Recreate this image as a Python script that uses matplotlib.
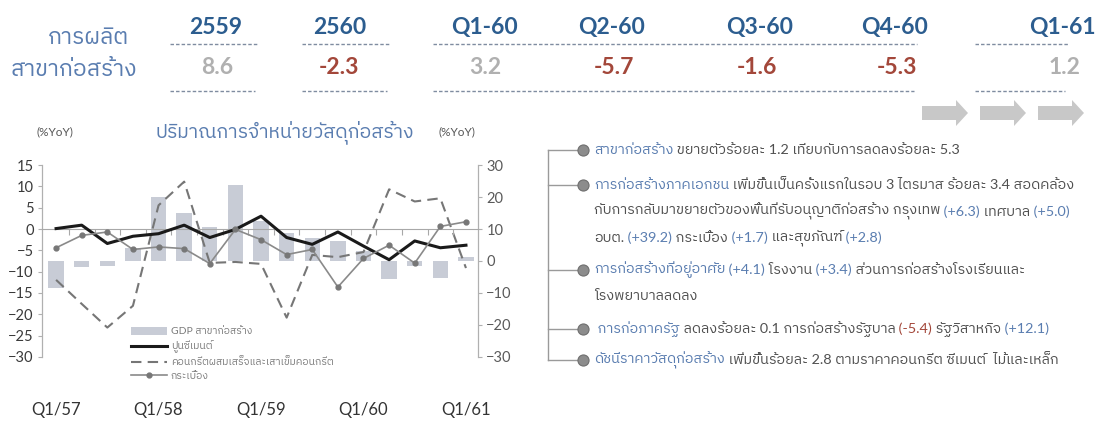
import matplotlib
matplotlib.use("Agg")
import matplotlib.pyplot as plt
from matplotlib import font_manager
from matplotlib.transforms import blended_transform_factory
from matplotlib.patches import FancyArrow, Patch
from matplotlib.lines import Line2D
from fontTools.ttLib import TTFont

# ─── Data ─────────────────────────────────────────────────────────────────────
quarters = ["Q1/57", "Q2/57", "Q3/57", "Q4/57",
            "Q1/58", "Q2/58", "Q3/58", "Q4/58",
            "Q1/59", "Q2/59", "Q3/59", "Q4/59",
            "Q1/60", "Q2/60", "Q3/60", "Q4/60",
            "Q1/61"]
gdp_construction = [-8.3, -1.9, -1.7, 4.1, 20.1, 15.0, 10.6, 23.8, 12.4, 8.8,
                    7.3, 6.2, 3.2, -5.7, -1.6, -5.3, 1.2]          # right axis
cement = [0.1, 0.9, -3.4, -1.7, -1.1, 0.9, -2.0, -0.1, 3.0, -2.0,
          -3.6, -0.7, -4.0, -7.2, -2.8, -4.4, -3.8]                 # left axis
concrete = [-5.9, -13.4, -20.8, -14.0, 17.4, 24.8, -0.6, -0.3, -0.9, -17.7,
            1.9, 1.2, 2.8, 22.4, 18.6, 19.6, -2.2]                  # right axis
tiles = [-4.4, -1.5, -0.7, -4.8, -4.2, -4.6, -8.1, -0.1, -2.5, -6.0,
         -4.8, -13.6, -6.9, -3.8, -8.0, 0.6, 1.7]                   # left axis

series_names = ["GDP สาขาก่อสร้าง", "ปูนซีเมนต์",
                "คอนกรีตผสมเสร็จและเสาเข็มคอนกรีต", "กระเบื้อง"]
year_labels = ["Q1/57", "Q1/58", "Q1/59", "Q1/60", "Q1/61"]

header_labels = ["2559", "2560", "Q1-60", "Q2-60", "Q3-60", "Q4-60", "Q1-61"]
header_values = [8.6, -2.3, 3.2, -5.7, -1.6, -5.3, 1.2]

# ─── Colours ──────────────────────────────────────────────────────────────────
BLUE_DARK = "#2c5d8f"
BLUE_SOFT = "#5a7db0"
RED = "#a3473a"
GREY_VAL = "#b0b0b0"
BODY = "#505050"
BAR = "#c8ccd6"


# ─── Fonts: find something with Thai glyphs ──────────────────────────────────
def find_thai_family():
    found = []
    for f in font_manager.fontManager.ttflist:
        try:
            tt = TTFont(f.fname, fontNumber=0, lazy=True)
            if 0x0E01 in tt.getBestCmap():
                found.append(f.name)
        except Exception:
            continue
    if not found:
        return None
    found.sort(key=lambda n: ("Thai" not in n, "Serif" in n, "Looped" in n, n))
    return found[0]


thai = find_thai_family()
plt.rcParams["font.family"] = ["Lato"] + ([thai] if thai else []) + ["DejaVu Sans"]

W, H = 1111, 428
fig = plt.figure(figsize=(W / 100, H / 100), dpi=100)

# background axes in pixel coordinates for the decorations
bg = fig.add_axes([0, 0, 1, 1])
bg.set_xlim(0, W)
bg.set_ylim(H, 0)
bg.axis("off")
bg.set_zorder(0)

# ─── Header table ─────────────────────────────────────────────────────────────
bg.text(88, 37, "การผลิต", color=BLUE_SOFT, fontsize=16.5, ha="center", va="center")
bg.text(74, 69, "สาขาก่อสร้าง", color=BLUE_SOFT, fontsize=16.5, ha="center", va="center")

label_x = [216, 340, 485, 612, 760, 895, 1062]
value_x = [217, 339, 485, 614, 757, 897, 1065]
for lx, vx, lab, val in zip(label_x, value_x, header_labels, header_values):
    bg.text(lx, 27, lab, color=BLUE_DARK, fontsize=16.5, fontweight="bold",
            ha="center", va="center")
    bg.text(vx, 67, f"{val:.1f}", color=RED if val < 0 else GREY_VAL,
            fontsize=16.5, fontweight="bold", ha="center", va="center")

for x0, x1 in [(170, 258), (302, 390), (433, 917), (975, 1068)]:
    bg.plot([x0, x1], [44, 44], ls=(0, (2.5, 1.5)), lw=1, color="#7f8ca0")
    bg.plot([x0, x1 - 3], [91, 91], ls=(0, (2.5, 1.5)), lw=1, color="#7f8ca0")

for ax0 in [922, 980, 1038]:
    bg.add_patch(FancyArrow(ax0, 113, 46, 0, width=14, head_width=26, head_length=12,
                            length_includes_head=True, color="#c8c8c8", lw=0))

# ─── Chart ────────────────────────────────────────────────────────────────────
ax = fig.add_axes([42 / W, 71 / H, 436 / W, 192 / H])
ax2 = ax.twinx()
ax2.set_zorder(1)
ax.set_zorder(2)
ax.patch.set_visible(False)

x = list(range(len(quarters)))
ax2.bar(x, gdp_construction, width=0.6, color=BAR, zorder=1)
ax2.plot(x, concrete, color="#767676", lw=1.5, ls=(0, (5, 3)), zorder=2)
ax.plot(x, cement, color="#1a1a1a", lw=2.2, zorder=3)
ax.plot(x, tiles, color="#8a8a8a", lw=1.2, marker="o", ms=3.5,
        mfc="#777777", mec="#777777", zorder=3)

ax.set_xlim(-0.55, len(quarters) - 0.53)
ax.set_ylim(-30, 15)
ax2.set_ylim(-30, 30)
ax.set_yticks(range(-30, 16, 5))
ax2.set_yticks(range(-30, 31, 10))

ax.spines["top"].set_visible(False)
ax2.spines["top"].set_visible(False)
ax2.spines["bottom"].set_visible(False)
ax.spines["bottom"].set_position(("data", 0))
ax.spines["bottom"].set_color("#a8a8a8")
ax.spines["bottom"].set_linewidth(0.8)
for s in ["left", "right"]:
    for a in (ax, ax2):
        a.spines[s].set_color("#b0b0b0")
        a.spines[s].set_linewidth(0.8)

ax.set_xticks([i + 0.5 for i in x[:-1]])
ax.set_xticklabels([])
ax.tick_params(axis="x", direction="out", length=4, color="#a8a8a8")
ax.tick_params(axis="y", direction="out", length=3, color="#b0b0b0",
               labelsize=10.5, labelcolor="#3a3a3a", pad=3)
ax2.tick_params(axis="y", direction="out", length=3, color="#b0b0b0",
                labelsize=10.5, labelcolor="#5a5a5a", pad=3)

# year labels far below the plot
year_tr = blended_transform_factory(ax.transData, fig.transFigure)
for lab in year_labels:
    ax.text(quarters.index(lab), 18 / H, lab, transform=year_tr,
            ha="center", va="center", fontsize=12, color="#333333")

bg.text(55, 132, "(%YoY)", fontsize=8.5, color="#555555", ha="center", va="center")
bg.text(457, 132, "(%YoY)", fontsize=8.5, color="#555555", ha="center", va="center")
bg.text(285, 132, "ปริมาณการจำหน่ายวัสดุก่อสร้าง", fontsize=14, color=BLUE_SOFT,
        ha="center", va="center")

handles = [Patch(facecolor=BAR, edgecolor="none"),
           Line2D([], [], color="#1a1a1a", lw=2.2),
           Line2D([], [], color="#767676", lw=1.5, ls=(0, (5, 3))),
           Line2D([], [], color="#8a8a8a", lw=1.2, marker="o", ms=3.5,
                  mfc="#777777", mec="#777777")]
leg = ax.legend(handles, series_names, loc="upper left",
                bbox_to_anchor=(126 / W, 1 - 322 / H), bbox_transform=fig.transFigure,
                frameon=False, fontsize=7.5, handlelength=3.4, labelspacing=0.4,
                handletextpad=0.4, borderpad=0)
for t in leg.get_texts():
    t.set_color("#7a7a7a")

# ─── Right-hand notes ─────────────────────────────────────────────────────────
renderer = fig.canvas.get_renderer()


def put_line(x0, y, parts, size=10.4):
    for txt, col in parts:
        t = bg.text(x0, y, txt, color=col, fontsize=size, ha="left", va="center")
        x0 += t.get_window_extent(renderer=renderer).width


notes = [
    (150, [[("สาขาก่อสร้าง", BLUE_SOFT), (" ขยายตัวร้อยละ 1.2 เทียบกับการลดลงร้อยละ 5.3", BODY)]]),
    (185, [[("การก่อสร้างภาคเอกชน", BLUE_SOFT),
            (" เพิ่มขึ้นเป็นครั้งแรกในรอบ 3 ไตรมาส ร้อยละ 3.4 สอดคล้อง", BODY)],
           [("กับการกลับมาขยายตัวของพื้นที่รับอนุญาติก่อสร้าง กรุงเทพ", BODY), (" (+6.3)", BLUE_SOFT),
            (" เทศบาล", BODY), (" (+5.0)", BLUE_SOFT)],
           [("อบต.", BODY), (" (+39.2)", BLUE_SOFT), (" กระเบื้อง", BODY), (" (+1.7)", BLUE_SOFT),
            (" และสุขภัณฑ์", BODY), (" (+2.8)", BLUE_SOFT)]]),
    (270, [[("การก่อสร้างที่อยู่อาศัย", BLUE_SOFT), (" (+4.1)", BLUE_SOFT), (" โรงงาน", BODY),
            (" (+3.4)", BLUE_SOFT), (" ส่วนการก่อสร้างโรงเรียนและ", BODY)],
           [("โรงพยาบาลลดลง", BODY)]]),
    (329, [[(" การก่อภาครัฐ", BLUE_SOFT), (" ลดลงร้อยละ 0.1 การก่อสร้างรัฐบาล", BODY),
            (" (-5.4)", RED), (" รัฐวิสาหกิจ", BODY), (" (+12.1)", BLUE_SOFT)]]),
    (360, [[("ดัชนีราคาวัสดุก่อสร้าง", BLUE_SOFT),
            (" เพิ่มขึ้นร้อยละ 2.8 ตามราคาคอนกรีต ซีเมนต์  ไม้และเหล็ก", BODY)]]),
]

ys = [n[0] for n in notes]
bg.plot([548, 548], [ys[0], ys[-1]], color="#9a9a9a", lw=1)
for y, lines in notes:
    bg.plot([548, 580], [y, y], color="#9a9a9a", lw=1)
    bg.plot([583], [y], marker="o", ms=8, mfc="#8c8c8c", mec="#6f6f6f", mew=0.8)
    for k, parts in enumerate(lines):
        put_line(594, y + k * 26.5, parts)

fig.savefig("out.png", dpi=100)
